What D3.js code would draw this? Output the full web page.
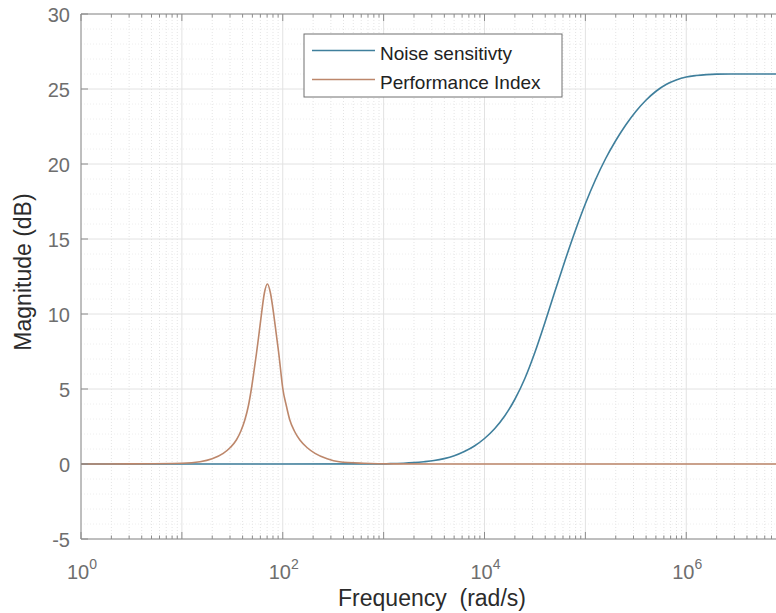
<!DOCTYPE html>
<html>
<head>
<meta charset="utf-8">
<script src="https://cdn.jsdelivr.net/npm/d3@7"></script>
<style>
  body { margin: 0; background: #fff; }
  svg { display: block; font-family: "Liberation Sans", Arial, sans-serif; }
</style>
</head>
<body>
<svg id="chart" width="776" height="613"></svg>
<script>
// --- data ---
// frequency as log10(rad/s), magnitude in dB
const noiseLogF = [0, 2, 3.0, 3.1, 3.2, 3.3, 3.4, 3.5, 3.6, 3.7, 3.8, 3.9, 4.0, 4.1, 4.2, 4.3, 4.4, 4.5, 4.6, 4.7,
                   4.8, 4.9, 5.0, 5.1, 5.2, 5.3, 5.4, 5.5, 5.6, 5.7, 5.8, 5.9, 6.0, 6.1, 6.2, 6.3, 6.5, 8];
const noiseDb   = [0, 0, 0.01, 0.03, 0.05, 0.09, 0.15, 0.23, 0.36, 0.55, 0.83, 1.2, 1.7, 2.35, 3.2, 4.3, 5.7, 7.45, 9.45, 11.55,
                   13.6, 15.55, 17.35, 18.95, 20.35, 21.55, 22.6, 23.5, 24.25, 24.85, 25.3, 25.6, 25.8, 25.9, 25.96, 25.99, 26.0, 26.0];

const perfLogF = [0, 0.5, 1.0, 1.18, 1.3, 1.41, 1.48, 1.54, 1.585, 1.624, 1.66, 1.69, 1.715, 1.74, 1.765, 1.789, 1.818,
                  1.848, 1.878, 1.91, 1.935, 1.96, 1.98, 2.0, 2.035, 2.07, 2.115, 2.17, 2.24, 2.32, 2.44, 2.56, 2.8, 3.1, 4, 8];
const perfDb   = [0, 0.01, 0.05, 0.15, 0.35, 0.71, 1.1, 1.6, 2.2, 2.93, 3.9, 5.05, 6.2, 7.4, 8.7, 10.0, 11.4,
                  12.0, 11.4, 10.0, 8.7, 7.4, 6.2, 5.05, 3.9, 2.93, 2.2, 1.6, 1.1, 0.71, 0.35, 0.15, 0.05, 0.01, 0, 0];

const seriesNames = ["Noise sensitivty", "Performance Index"];
const seriesColors = ["#3f7f9c", "#bd876b"];

const xDecades = [0, 2, 4, 6];
const yTicks = [-5, 0, 5, 10, 15, 20, 25, 30];

// --- layout ---
const svg = d3.select("#chart");
const pLeft = 81, pTop = 14, pRight = 888, pBottom = 539;

const x = d3.scaleLog().domain([1, 1e8]).range([pLeft, pRight]);
const y = d3.scaleLinear().domain([-5, 30]).range([pBottom, pTop]);

// minor grid (x: 2..9 per decade, y: every 1 dB)
const minorX = [];
for (let d = 0; d < 8; d++) for (let m = 2; m <= 9; m++) minorX.push(m * Math.pow(10, d));
const minorY = d3.range(-5, 31).filter(v => v % 5 !== 0);

const grid = svg.append("g");
grid.append("g").selectAll("line").data(minorX).join("line")
  .attr("x1", d => x(d)).attr("x2", d => x(d))
  .attr("y1", pTop).attr("y2", pBottom)
  .attr("stroke", "#e4e4e4").attr("stroke-dasharray", "1,2");
grid.append("g").selectAll("line").data(minorY).join("line")
  .attr("x1", pLeft).attr("x2", pRight)
  .attr("y1", d => y(d)).attr("y2", d => y(d))
  .attr("stroke", "#eeeeee").attr("stroke-dasharray", "1,2");

// major grid
const majorX = d3.range(0, 9).map(d => Math.pow(10, d));
grid.append("g").selectAll("line").data(majorX).join("line")
  .attr("x1", d => x(d)).attr("x2", d => x(d))
  .attr("y1", pTop).attr("y2", pBottom)
  .attr("stroke", "#e2e2e2");
grid.append("g").selectAll("line").data(yTicks).join("line")
  .attr("x1", pLeft).attr("x2", pRight)
  .attr("y1", d => y(d)).attr("y2", d => y(d))
  .attr("stroke", "#e2e2e2");

// --- lines ---
const line = d3.line()
  .x(d => x(Math.pow(10, d[0])))
  .y(d => y(d[1]))
  .curve(d3.curveMonotoneX);

const perf = perfLogF.map((f, i) => [f, perfDb[i]]);
const noise = noiseLogF.map((f, i) => [f, noiseDb[i]]);

svg.append("path").datum(noise)
  .attr("fill", "none").attr("stroke", seriesColors[0])
  .attr("stroke-width", 1.6).attr("d", line);
svg.append("path").datum(perf)
  .attr("fill", "none").attr("stroke", seriesColors[1])
  .attr("stroke-width", 1.6).attr("d", line);

// --- axes (box, ticks inward) ---
const axisColor = "#8c8c8c";
const ax = svg.append("g");
ax.append("line").attr("x1", pLeft).attr("x2", pRight).attr("y1", pTop).attr("y2", pTop).attr("stroke", axisColor);
ax.append("line").attr("x1", pLeft).attr("x2", pRight).attr("y1", pBottom).attr("y2", pBottom).attr("stroke", axisColor);
ax.append("line").attr("x1", pLeft).attr("x2", pLeft).attr("y1", pTop).attr("y2", pBottom).attr("stroke", axisColor);

// x ticks top and bottom
[pTop, pBottom].forEach(yy => {
  const dir = yy === pTop ? 1 : -1;
  ax.append("g").selectAll("line").data(majorX).join("line")
    .attr("x1", d => x(d)).attr("x2", d => x(d))
    .attr("y1", yy).attr("y2", yy + dir * 7)
    .attr("stroke", axisColor);
  ax.append("g").selectAll("line").data(minorX).join("line")
    .attr("x1", d => x(d)).attr("x2", d => x(d))
    .attr("y1", yy).attr("y2", yy + dir * 3.5)
    .attr("stroke", axisColor);
});
// y ticks
ax.append("g").selectAll("line").data(yTicks).join("line")
  .attr("x1", pLeft).attr("x2", pLeft + 7)
  .attr("y1", d => y(d)).attr("y2", d => y(d))
  .attr("stroke", axisColor);

// y tick labels
svg.append("g").selectAll("text").data(yTicks).join("text")
  .attr("x", pLeft - 11).attr("y", d => y(d) + 7.5)
  .attr("text-anchor", "end")
  .attr("font-size", 20).attr("fill", "#6e6e6e")
  .text(d => d);

// x tick labels 10^n
const xl = svg.append("g").selectAll("text").data(xDecades).join("text")
  .attr("x", d => x(Math.pow(10, d)) + 1).attr("y", 579)
  .attr("text-anchor", "middle")
  .attr("font-size", 20).attr("fill", "#6e6e6e");
xl.append("tspan").text("10");
xl.append("tspan").attr("dy", -10).attr("font-size", 14).text(d => d);

// axis titles
svg.append("text")
  .attr("x", 432).attr("y", 606)
  .attr("text-anchor", "middle")
  .attr("font-size", 23).attr("fill", "#2b2b2b")
  .style("white-space", "pre")
  .text("Frequency  (rad/s)");
svg.append("text")
  .attr("transform", "translate(31,272) rotate(-90)")
  .attr("text-anchor", "middle")
  .attr("font-size", 23).attr("fill", "#2b2b2b")
  .text("Magnitude (dB)");

// --- legend ---
const lg = svg.append("g");
lg.append("rect")
  .attr("x", 304).attr("y", 34).attr("width", 258).attr("height", 63)
  .attr("fill", "#fff").attr("stroke", "#707070");
seriesNames.forEach((name, i) => {
  const yy = 50.5 + i * 29;
  lg.append("line")
    .attr("x1", 312).attr("x2", 375).attr("y1", yy).attr("y2", yy)
    .attr("stroke", seriesColors[i]).attr("stroke-width", 1.6);
  lg.append("text")
    .attr("x", 380).attr("y", yy + 9)
    .attr("font-size", 19).attr("fill", "#222")
    .text(name);
});
</script>
</body>
</html>
